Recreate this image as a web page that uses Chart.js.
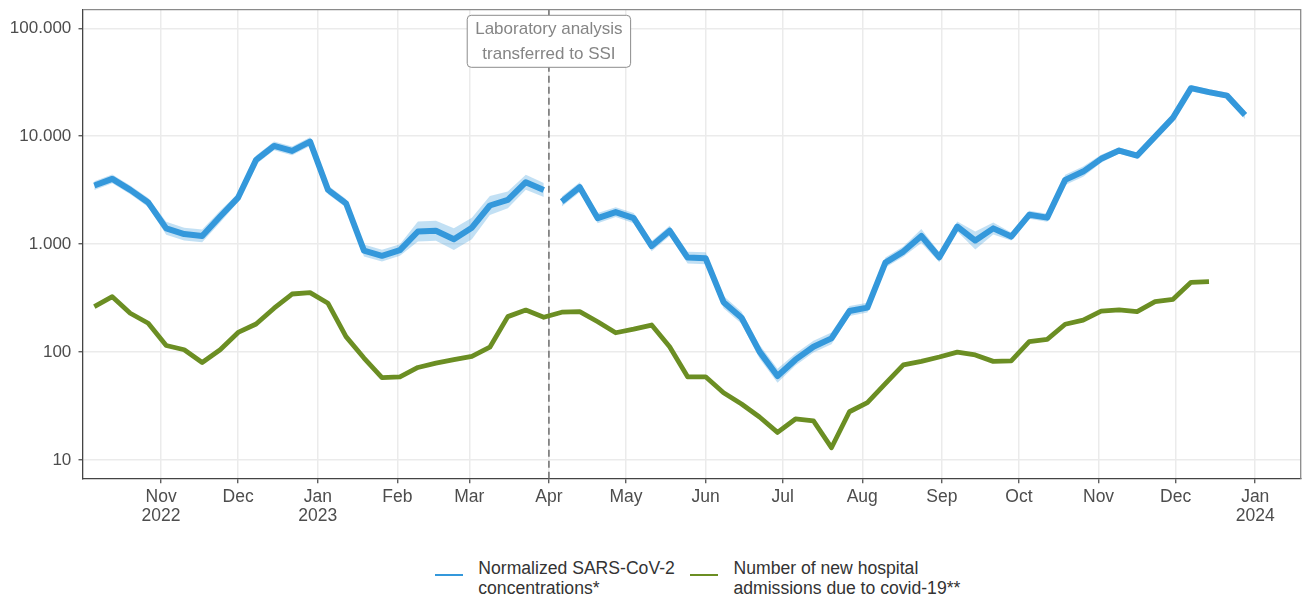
<!DOCTYPE html>
<html>
<head>
<meta charset="utf-8">
<title>SARS-CoV-2 in wastewater vs hospital admissions</title>
<script src="https://cdn.jsdelivr.net/npm/chart.js@4.4.1/dist/chart.umd.min.js"></script>
<style>
    html, body { margin: 0; padding: 0; background: #fff; }
    #wrap { position: relative; width: 1302px; height: 540px; }
    #legend {
        position: absolute; left: 435px; top: 558px;
        display: flex; align-items: center;
        font-family: 'Liberation Sans', Arial, sans-serif; font-size: 17.6px;
        line-height: 20px; color: #333;
    }
    #legend .item { display: flex; align-items: center; margin-right: 15.4px; }
    #legend .key { width: 27.7px; height: 2.5px; margin-right: 15.6px; position: relative; top: -3px; }
</style>
</head>
<body>
<div id="wrap"><canvas id="wastewaterChart" width="1302" height="540"></canvas></div>
<div id="legend"></div>
<script>
// weekly sample dates (Thursday of each week)
const weeks = [
    '2022-10-06', '2022-10-13', '2022-10-20', '2022-10-27', '2022-11-03', '2022-11-10', '2022-11-17', '2022-11-24',
    '2022-12-01', '2022-12-08', '2022-12-15', '2022-12-22', '2022-12-29', '2023-01-05', '2023-01-12', '2023-01-19',
    '2023-01-26', '2023-02-02', '2023-02-09', '2023-02-16', '2023-02-23', '2023-03-02', '2023-03-09', '2023-03-16',
    '2023-03-23', '2023-03-30', '2023-04-06', '2023-04-13', '2023-04-20', '2023-04-27', '2023-05-04', '2023-05-11',
    '2023-05-18', '2023-05-25', '2023-06-01', '2023-06-08', '2023-06-15', '2023-06-22', '2023-06-29', '2023-07-06',
    '2023-07-13', '2023-07-20', '2023-07-27', '2023-08-03', '2023-08-10', '2023-08-17', '2023-08-24', '2023-08-31',
    '2023-09-07', '2023-09-14', '2023-09-21', '2023-09-28', '2023-10-05', '2023-10-12', '2023-10-19', '2023-10-26',
    '2023-11-02', '2023-11-09', '2023-11-16', '2023-11-23', '2023-11-30', '2023-12-07', '2023-12-14', '2023-12-21',
    '2023-12-28'
];

// normalized SARS-CoV-2 concentrations
const sarsConc = [
    3490, 4020, 3180, 2430, 1400, 1240, 1190, 1800, 2700, 6030, 8130, 7300, 8910,
    3180, 2390, 870, 780, 880, 1310, 1330, 1110, 1420, 2280, 2570, 3750, 3180,
    2480, 3370, 1740, 1980, 1740, 960, 1330, 750, 740, 290, 208, 101, 60,
    85, 112, 134, 240, 258, 674, 853, 1190, 756, 1455, 1080, 1400, 1175,
    1870, 1760, 3940, 4700, 6170, 7360, 6610, 9900, 14860, 27860, 25590, 23780, 15740
];
const sarsLow = [
    3180, 3660, 2900, 2210, 1220, 1080, 1040, 1590, 2460, 5500, 7420, 6660, 8130,
    2900, 2180, 770, 690, 780, 1060, 1075, 880, 1110, 1860, 2145, 3195, 2740,
    2230, 3030, 1560, 1780, 1560, 860, 1190, 660, 650, 255, 183, 87, 52,
    75, 99, 118, 216, 232, 606, 766, 1025, 680, 1307, 890, 1230, 1080,
    1715, 1615, 3540, 4220, 5665, 6905, 6200, 9290, 13650, 26130, 24000, 22310, 14450
];
const sarsHigh = [
    3830, 4410, 3490, 2670, 1610, 1420, 1370, 2040, 2960, 6620, 8920, 8010, 9780,
    3490, 2620, 990, 885, 1000, 1620, 1650, 1400, 1760, 2790, 3080, 4400, 3690,
    2760, 3750, 1940, 2200, 1940, 1070, 1480, 850, 840, 330, 236, 117, 70,
    97, 127, 152, 267, 287, 750, 950, 1380, 841, 1620, 1310, 1590, 1280,
    2035, 1915, 4385, 5230, 6720, 7845, 7045, 10550, 16180, 29700, 27280, 25350, 17140
];

// new hospital admissions (weeks from 2022-10-06 to 2023-12-14)
const admissions = [
    264, 326, 229, 185, 115, 105, 80, 105, 152, 182, 255, 345, 355,
    283, 139, 88, 58, 59, 72, 79, 85, 91, 111, 213, 245, 210,
    234, 237, 191, 151, 163, 178, 112, 59, 59, 42, 33, 25, 18,
    24, 23, 13, 28, 34, 51, 76, 82, 90, 100, 94, 82, 83,
    125, 131, 181, 198, 240, 246, 237, 293, 308, 443, 450
];

const monthTicks = [
    '2022-11-01', '2022-12-01', '2023-01-01', '2023-02-01', '2023-03-01', '2023-04-01', '2023-05-01', '2023-06-01',
    '2023-07-01', '2023-08-01', '2023-09-01', '2023-10-01', '2023-11-01', '2023-12-01', '2024-01-01'
];
const monthLabels = [
    ['Nov', '2022'], 'Dec', ['Jan', '2023'], 'Feb', 'Mar', 'Apr', 'May', 'Jun',
    'Jul', 'Aug', 'Sep', 'Oct', 'Nov', 'Dec', ['Jan', '2024']
];
const yTicks = [10, 100, 1000, 10000, 100000];

const labTransferDate = '2023-04-01';
const labTransferText = ['Laboratory analysis', 'transferred to SSI'];

const seriesNames = ['Normalized SARS-CoV-2\nconcentrations*', 'Number of new hospital\nadmissions due to covid-19**'];
const blue = '#3498db';
const blueBand = 'rgba(52, 152, 219, 0.3)';
const green = '#6b8e23';
const font = "'Liberation Sans', Arial, sans-serif";

const toDay = d => (Date.parse(d) - Date.parse('2023-01-01')) / 86400000;
const fmt = v => String(v).replace(/\B(?=(\d{3})+(?!\d))/g, '.');
const labDay = toDay(labTransferDate);

const toPoints = vals => vals.map((v, i) => ({ x: toDay(weeks[i]), y: v }));
const beforeLab = pts => pts.filter(p => p.x < labDay);
const afterLab = pts => pts.filter(p => p.x >= labDay);

const lineBase = { pointRadius: 0, tension: 0, borderJoinStyle: 'round', borderCapStyle: 'butt', fill: false };
const bandLow = pts => ({ ...lineBase, data: pts, borderWidth: 0, order: 3 });
const bandHigh = pts => ({ ...lineBase, data: pts, borderWidth: 0, fill: '-1', backgroundColor: blueBand, order: 3 });

const datasets = [
    bandLow(beforeLab(toPoints(sarsLow))),
    bandHigh(beforeLab(toPoints(sarsHigh))),
    bandLow(afterLab(toPoints(sarsLow))),
    bandHigh(afterLab(toPoints(sarsHigh))),
    { ...lineBase, label: seriesNames[0], data: beforeLab(toPoints(sarsConc)), borderColor: blue, borderWidth: 6, order: 1 },
    { ...lineBase, label: seriesNames[0], data: afterLab(toPoints(sarsConc)), borderColor: blue, borderWidth: 6, order: 1 },
    { ...lineBase, label: seriesNames[1], data: toPoints(admissions), borderColor: green, borderWidth: 4.8, order: 0 }
];

// dashed line + label box at the lab transfer date, and the panel frame
const labPlugin = {
    id: 'labTransfer',
    beforeDatasetsDraw(chart) {
        const { ctx, chartArea, scales } = chart;
        const x = scales.x.getPixelForValue(labDay);
        ctx.save();
        ctx.strokeStyle = '#6e6e6e';
        ctx.lineWidth = 1.5;
        ctx.setLineDash([7, 4]);
        ctx.beginPath();
        ctx.moveTo(x, chartArea.top);
        ctx.lineTo(x, chartArea.bottom);
        ctx.stroke();
        ctx.restore();
    },
    afterDatasetsDraw(chart) {
        const { ctx, chartArea, scales } = chart;
        const x = scales.x.getPixelForValue(labDay);
        ctx.save();
        ctx.font = '17px ' + font;
        const w = Math.max(...labTransferText.map(t => ctx.measureText(t).width)) + 16;
        const h = 52;
        const top = chartArea.top + 5.6;
        ctx.beginPath();
        ctx.roundRect(x - w / 2, top, w, h, 4);
        ctx.fillStyle = '#fff';
        ctx.fill();
        ctx.strokeStyle = '#8c8c8c';
        ctx.lineWidth = 1;
        ctx.stroke();
        ctx.fillStyle = '#858585';
        ctx.textAlign = 'center';
        ctx.textBaseline = 'middle';
        labTransferText.forEach((t, i) => ctx.fillText(t, x, top + 14 + i * 25));
        ctx.restore();
    },
    afterDraw(chart) {
        const { ctx, chartArea } = chart;
        ctx.save();
        ctx.strokeStyle = '#8a8a8a';
        ctx.lineWidth = 1.3;
        ctx.beginPath();
        ctx.moveTo(chartArea.left, chartArea.top);
        ctx.lineTo(chartArea.right, chartArea.top);
        ctx.lineTo(chartArea.right, chartArea.bottom);
        ctx.stroke();
        ctx.restore();
    }
};

const ctx = document.getElementById('wastewaterChart').getContext('2d');
const wastewaterChart = new Chart(ctx, {
    type: 'line',
    data: { datasets: datasets },
    options: {
        responsive: false,
        animation: false,
        events: [],
        layout: { padding: { top: 9.7, right: 1.3, left: 0, bottom: 0 } },
        plugins: { legend: { display: false }, tooltip: { enabled: false } },
        scales: {
            x: {
                type: 'linear',
                min: -91.4,
                max: 382.7,
                afterBuildTicks: axis => { axis.ticks = monthTicks.map(d => ({ value: toDay(d) })); },
                afterFit: axis => { axis.height = 61.3; axis.paddingLeft = 0; axis.paddingRight = 0; },
                ticks: {
                    autoSkip: false,
                    maxRotation: 0,
                    padding: 5,
                    color: '#4d4d4d',
                    font: { family: font, size: 17.5, lineHeight: 1.07 },
                    callback: (value, index) => monthLabels[index]
                },
                grid: { color: '#ebebeb', lineWidth: 1.5, tickColor: '#444', tickLength: 4.5, tickWidth: 1.2 },
                border: { color: '#444', width: 1.3 }
            },
            y: {
                type: 'logarithmic',
                min: 6.71,
                max: 148600,
                afterBuildTicks: axis => { axis.ticks = yTicks.map(v => ({ value: v })); },
                afterFit: axis => { axis.width = 83; axis.paddingTop = 0; axis.paddingBottom = 0; },
                ticks: {
                    padding: 7.2,
                    color: '#4d4d4d',
                    font: { family: font, size: 17 },
                    callback: value => fmt(value)
                },
                grid: { color: '#ebebeb', lineWidth: 1.5, tickColor: '#444', tickLength: 4.5, tickWidth: 1.2 },
                border: { color: '#444', width: 1.3 }
            }
        }
    },
    plugins: [labPlugin]
});

// html legend (two-line labels)
const legendItems = [
    { text: seriesNames[0], color: blue },
    { text: seriesNames[1], color: green }
];
document.getElementById('legend').innerHTML = legendItems.map(item =>
    `<div class="item"><span class="key" style="background:${item.color}"></span>` +
    `<span>${item.text.replace('\n', '<br>')}</span></div>`
).join('');
</script>
</body>
</html>
